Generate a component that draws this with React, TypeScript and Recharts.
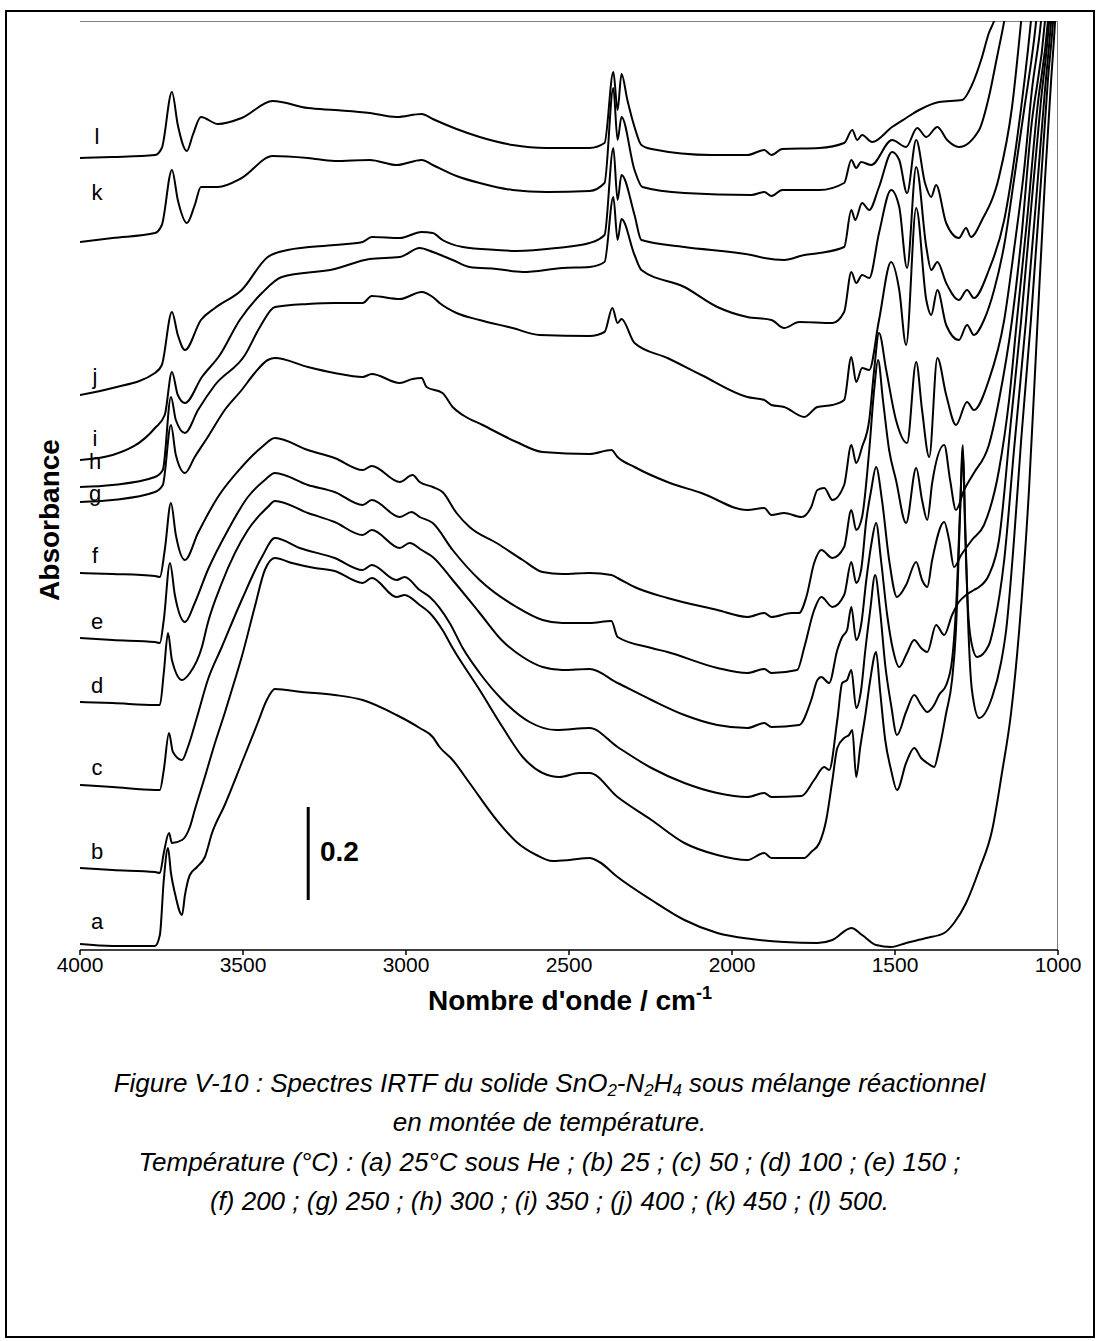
import React from 'react';
import { LineChart, Line, XAxis, YAxis, ReferenceLine } from 'recharts';

// wavenumber (cm-1), absorbance with offset (arbitrary units, 93 = 0.2)
const specA: [number, number][] = [
  [4000, 6], [3900, 4], [3770, 4], [3755, 15], [3743, 70], [3730, 102], [3721, 77], [3709, 57], [3687, 35], [3678, 55],
  [3663, 75], [3641, 83], [3617, 93], [3595, 117], [3556, 145], [3504, 187], [3455, 227], [3427, 250], [3402, 261], [3320, 258],
  [3219, 255], [3133, 250], [3029, 235], [2958, 222], [2918, 213], [2897, 203], [2857, 190], [2805, 167], [2722, 130], [2661, 108],
  [2600, 95], [2551, 89], [2498, 90], [2437, 92], [2407, 88], [2351, 73], [2247, 50], [2146, 30], [2045, 17], [1941, 11],
  [1840, 8], [1738, 7], [1692, 10], [1634, 22], [1601, 15], [1558, 5], [1512, 3], [1466, 7], [1404, 12], [1349, 17],
  [1319, 27], [1282, 47], [1242, 80], [1202, 120], [1172, 177], [1144, 237], [1119, 320], [1089, 460], [1064, 620], [1040, 770],
  [1021, 870], [1009, 929], [1000, 990],
];
const specB: [number, number][] = [
  [4000, 82], [3900, 80], [3770, 78], [3755, 77], [3743, 97], [3727, 117], [3718, 107], [3687, 110], [3663, 123], [3648, 140],
  [3617, 173], [3586, 207], [3556, 237], [3525, 270], [3504, 293], [3464, 343], [3433, 380], [3402, 392], [3350, 387], [3280, 382],
  [3219, 379], [3133, 367], [3105, 372], [3029, 353], [3004, 355], [2958, 345], [2927, 337], [2888, 320], [2857, 302], [2774, 260],
  [2704, 223], [2642, 193], [2581, 177], [2529, 173], [2468, 177], [2437, 177], [2351, 153], [2247, 130], [2146, 107], [2045, 95],
  [1953, 90], [1901, 97], [1879, 92], [1778, 92], [1757, 98], [1732, 107], [1711, 130], [1692, 170], [1677, 202], [1656, 212],
  [1641, 215], [1631, 220], [1619, 173], [1607, 202], [1591, 235], [1576, 270], [1558, 298], [1546, 260], [1530, 210], [1512, 180],
  [1494, 160], [1466, 187], [1441, 202], [1420, 192], [1401, 187], [1380, 183], [1365, 200], [1343, 237], [1325, 270], [1313, 320],
  [1301, 430], [1292, 505], [1285, 430], [1276, 330], [1264, 260], [1242, 232], [1202, 253], [1175, 287], [1159, 320], [1135, 410],
  [1113, 510], [1083, 630], [1052, 770], [1031, 870], [1015, 929], [1000, 1010],
];
const specC: [number, number][] = [
  [4000, 165], [3900, 163], [3770, 160], [3755, 160], [3743, 180], [3727, 217], [3715, 198], [3687, 190], [3669, 203], [3641, 233],
  [3608, 270], [3565, 303], [3504, 350], [3442, 393], [3402, 412], [3326, 402], [3219, 392], [3133, 380], [3105, 385], [3029, 370],
  [3004, 373], [2958, 360], [2927, 353], [2866, 327], [2826, 302], [2774, 277], [2704, 250], [2621, 228], [2539, 220], [2437, 222],
  [2351, 203], [2247, 182], [2146, 167], [2045, 157], [1953, 153], [1901, 157], [1879, 153], [1787, 154], [1748, 170], [1717, 183],
  [1702, 180], [1677, 230], [1662, 267], [1647, 270], [1634, 280], [1619, 242], [1604, 260], [1591, 300], [1576, 340], [1561, 375],
  [1546, 340], [1530, 285], [1512, 245], [1494, 215], [1466, 238], [1441, 255], [1420, 245], [1401, 238], [1380, 245], [1365, 255],
  [1343, 265], [1325, 290], [1310, 360], [1297, 470], [1292, 500], [1285, 420], [1276, 340], [1267, 310], [1248, 293], [1212, 305],
  [1196, 325], [1165, 390], [1135, 500], [1098, 630], [1067, 750], [1040, 860], [1021, 929], [1000, 1030],
];
const specD: [number, number][] = [
  [4000, 248], [3900, 247], [3770, 245], [3755, 245], [3743, 277], [3730, 317], [3718, 290], [3687, 270], [3663, 277], [3626, 303],
  [3608, 327], [3565, 367], [3485, 420], [3424, 443], [3402, 449], [3301, 437], [3219, 428], [3133, 415], [3105, 420], [3019, 402],
  [2989, 407], [2952, 400], [2918, 393], [2857, 370], [2774, 337], [2707, 310], [2642, 293], [2581, 283], [2520, 280], [2437, 281],
  [2351, 267], [2247, 250], [2146, 235], [2045, 225], [1953, 222], [1901, 227], [1879, 223], [1794, 225], [1757, 250], [1738, 270],
  [1726, 273], [1702, 267], [1677, 300], [1662, 313], [1647, 320], [1634, 343], [1619, 310], [1604, 325], [1588, 370], [1573, 405],
  [1558, 427], [1543, 390], [1524, 335], [1506, 300], [1487, 283], [1466, 295], [1441, 310], [1420, 302], [1401, 298], [1374, 325],
  [1349, 315], [1325, 335], [1304, 348], [1282, 355], [1258, 360], [1242, 363], [1212, 375], [1181, 410], [1144, 530], [1113, 630],
  [1083, 740], [1052, 850], [1027, 929], [1000, 1080],
];
const specE: [number, number][] = [
  [4000, 312], [3900, 310], [3770, 308], [3755, 307], [3743, 330], [3724, 387], [3709, 355], [3678, 328], [3648, 347], [3608, 380],
  [3546, 420], [3485, 453], [3433, 470], [3402, 477], [3301, 465], [3219, 458], [3133, 445], [3105, 450], [3019, 433], [2983, 438],
  [2958, 433], [2918, 427], [2857, 400], [2774, 370], [2661, 343], [2581, 330], [2520, 327], [2437, 327], [2370, 329], [2351, 313],
  [2247, 302], [2198, 298], [2045, 282], [1953, 277], [1901, 281], [1879, 277], [1800, 280], [1778, 303], [1748, 340], [1726, 353],
  [1692, 343], [1656, 355], [1634, 388], [1619, 367], [1604, 380], [1588, 430], [1573, 460], [1558, 483], [1540, 450], [1518, 390],
  [1494, 353], [1466, 365], [1435, 388], [1417, 370], [1401, 363], [1386, 390], [1349, 428], [1334, 410], [1319, 383], [1297, 395],
  [1264, 410], [1227, 425], [1181, 480], [1150, 550], [1126, 630], [1095, 730], [1064, 840], [1031, 929], [1000, 1100],
];
const specF: [number, number][] = [
  [4000, 377], [3900, 376], [3770, 374], [3755, 373], [3740, 400], [3721, 447], [3706, 415], [3678, 390], [3638, 417], [3577, 453],
  [3504, 483], [3442, 503], [3402, 512], [3301, 500], [3219, 492], [3133, 480], [3105, 484], [3019, 468], [2980, 475], [2958, 468],
  [2918, 463], [2888, 458], [2845, 437], [2805, 423], [2722, 407], [2642, 390], [2581, 378], [2520, 376], [2437, 377], [2370, 375],
  [2351, 372], [2299, 363], [2198, 352], [2045, 340], [1953, 333], [1901, 337], [1879, 333], [1817, 337], [1794, 337], [1772, 353],
  [1748, 387], [1726, 400], [1692, 392], [1656, 403], [1634, 440], [1619, 420], [1601, 433], [1579, 500], [1564, 560], [1552, 590],
  [1537, 550], [1518, 500], [1497, 470], [1466, 427], [1435, 482], [1417, 450], [1401, 430], [1386, 467], [1349, 505], [1331, 470],
  [1313, 440], [1288, 460], [1258, 477], [1212, 505], [1181, 550], [1141, 630], [1113, 710], [1083, 820], [1040, 929], [1000, 1150],
];
const specG: [number, number][] = [
  [4000, 448], [3900, 450], [3770, 458], [3746, 465], [3721, 525], [3706, 495], [3678, 477], [3648, 493], [3608, 513], [3556, 540],
  [3504, 560], [3464, 577], [3424, 590], [3402, 592], [3301, 583], [3219, 577], [3133, 573], [3105, 576], [3019, 567], [2980, 571],
  [2952, 572], [2937, 563], [2888, 557], [2857, 543], [2826, 535], [2765, 525], [2661, 508], [2581, 498], [2437, 496], [2370, 500],
  [2351, 493], [2299, 483], [2198, 468], [2094, 457], [1953, 440], [1901, 442], [1879, 435], [1840, 437], [1787, 433], [1757, 443],
  [1738, 460], [1717, 462], [1692, 450], [1656, 465], [1634, 505], [1619, 487], [1601, 503], [1579, 530], [1564, 580], [1549, 617],
  [1527, 580], [1497, 530], [1463, 507], [1435, 588], [1417, 540], [1395, 493], [1370, 592], [1343, 555], [1313, 525], [1279, 548],
  [1258, 540], [1212, 570], [1165, 630], [1135, 700], [1104, 780], [1080, 860], [1052, 929], [1000, 1200],
];
const specH: [number, number][] = [
  [4000, 463], [3900, 465], [3770, 473], [3746, 480], [3721, 553], [3706, 530], [3678, 517], [3638, 540], [3586, 565], [3494, 595],
  [3448, 623], [3402, 643], [3301, 646], [3219, 647], [3133, 647], [3105, 654], [3019, 651], [2952, 658], [2918, 653], [2897, 647],
  [2845, 637], [2774, 630], [2673, 622], [2590, 615], [2437, 614], [2391, 618], [2367, 642], [2351, 627], [2339, 631], [2299, 607],
  [2198, 592], [2094, 575], [1953, 553], [1901, 550], [1879, 545], [1840, 543], [1778, 533], [1738, 543], [1692, 545], [1656, 550],
  [1634, 593], [1619, 568], [1601, 582], [1579, 580], [1549, 630], [1512, 688], [1487, 660], [1466, 605], [1435, 742], [1404, 650],
  [1389, 635], [1370, 660], [1343, 625], [1304, 610], [1279, 625], [1258, 615], [1227, 630], [1196, 660], [1165, 705], [1135, 770],
  [1104, 840], [1067, 929], [1000, 1250],
];
const specI: [number, number][] = [
  [4000, 490], [3900, 495], [3770, 522], [3740, 535], [3718, 578], [3700, 555], [3678, 547], [3626, 573], [3571, 595], [3510, 630],
  [3442, 657], [3381, 673], [3219, 681], [3111, 691], [3019, 693], [2958, 702], [2918, 698], [2857, 690], [2805, 683], [2722, 681],
  [2642, 678], [2520, 682], [2437, 683], [2391, 688], [2364, 753], [2351, 710], [2339, 731], [2299, 695], [2278, 680], [2146, 663],
  [2045, 643], [1953, 633], [1879, 630], [1840, 622], [1794, 628], [1692, 627], [1656, 638], [1634, 678], [1619, 667], [1601, 675],
  [1579, 672], [1549, 717], [1512, 760], [1487, 743], [1463, 682], [1435, 783], [1404, 703], [1389, 680], [1370, 688], [1343, 667],
  [1304, 650], [1279, 660], [1258, 652], [1212, 680], [1165, 730], [1126, 810], [1083, 929], [1000, 1300],
];
const specJ: [number, number][] = [
  [4000, 555], [3900, 562], [3770, 577], [3749, 585], [3718, 638], [3700, 615], [3678, 600], [3629, 630], [3586, 642], [3504, 660],
  [3424, 693], [3363, 700], [3219, 705], [3133, 708], [3105, 713], [3019, 712], [2952, 718], [2918, 717], [2888, 710], [2826, 703],
  [2722, 700], [2661, 699], [2539, 702], [2437, 707], [2391, 715], [2364, 802], [2351, 750], [2339, 775], [2299, 735], [2278, 710],
  [2146, 703], [1941, 695], [1901, 692], [1840, 690], [1778, 695], [1732, 697], [1656, 703], [1634, 740], [1622, 730], [1601, 747],
  [1579, 740], [1549, 763], [1509, 798], [1487, 790], [1463, 757], [1435, 810], [1408, 767], [1389, 753], [1374, 765], [1343, 727],
  [1304, 712], [1282, 722], [1267, 713], [1233, 730], [1181, 773], [1141, 843], [1113, 929], [1000, 1400],
];
const specK: [number, number][] = [
  [4000, 708], [3900, 712], [3770, 717], [3749, 725], [3718, 780], [3700, 750], [3672, 727], [3648, 745], [3629, 763], [3577, 763],
  [3504, 772], [3409, 794], [3301, 792], [3219, 789], [3111, 790], [3029, 785], [2952, 790], [2918, 785], [2845, 774], [2774, 767],
  [2673, 760], [2569, 758], [2437, 759], [2391, 767], [2364, 862], [2351, 810], [2339, 833], [2299, 780], [2275, 763], [2146, 757],
  [1941, 755], [1901, 758], [1879, 754], [1846, 760], [1732, 760], [1656, 767], [1634, 790], [1619, 782], [1604, 788], [1573, 785],
  [1509, 810], [1466, 803], [1432, 822], [1404, 813], [1370, 823], [1340, 810], [1304, 803], [1242, 820], [1212, 853], [1187, 893],
  [1165, 929], [1000, 1500],
];
const specL: [number, number][] = [
  [4000, 792], [3900, 793], [3770, 795], [3749, 802], [3718, 858], [3700, 825], [3672, 799], [3654, 815], [3629, 833], [3577, 826],
  [3504, 832], [3409, 849], [3301, 842], [3219, 840], [3111, 837], [3029, 833], [2952, 836], [2918, 831], [2845, 821], [2774, 813],
  [2673, 805], [2569, 802], [2437, 802], [2391, 807], [2364, 878], [2351, 840], [2339, 876], [2321, 850], [2299, 823], [2278, 805],
  [2247, 801], [2063, 795], [1953, 795], [1901, 800], [1879, 795], [1846, 801], [1732, 802], [1656, 807], [1631, 820], [1616, 810],
  [1601, 815], [1570, 808], [1509, 823], [1466, 832], [1426, 840], [1365, 848], [1294, 850], [1264, 865], [1233, 893], [1212, 917],
  [1196, 929], [1000, 1500],
];

const spectra = [specA, specB, specC, specD, specE, specF, specG, specH, specI, specJ, specK, specL];
const curveLetters = ['a', 'b', 'c', 'd', 'e', 'f', 'g', 'h', 'i', 'j', 'k', 'l'];
// label centre for each letter, pixels from the plot's left / bottom edge
const letterLeft = [17, 17, 17, 17, 17, 15, 15, 15, 15, 15, 17, 17];
const letterUp = [28, 98, 182, 264, 328, 394, 456, 488, 511, 573, 757, 813];

const xTicks = [4000, 3500, 3000, 2500, 2000, 1500, 1000];
const scaleBarX = 3300;
const scaleBarFrom = 50;
const scaleBarSize = 93; // 0.2 absorbance

const captionLines = [
  <>Figure V-10 : Spectres IRTF du solide SnO<sub>2</sub>-N<sub>2</sub>H<sub>4</sub> sous mélange réactionnel</>,
  <>en montée de température.</>,
  <>Température (°C) : (a) 25°C sous He ; (b) 25 ; (c) 50 ; (d) 100 ; (e) 150 ;</>,
  <>(f) 200 ; (g) 250 ; (h) 300 ; (i) 350 ; (j) 400 ; (k) 450 ; (l) 500.</>,
];

const font = '"Liberation Sans", Arial, sans-serif';

export default function App() {
  return (
    <div style={{ position: 'relative', width: 1099, height: 1341, background: '#fff', fontFamily: font }}>
      <style>{`body{margin:0;} sub{font-size:0.65em;vertical-align:-0.25em;line-height:0;}`}</style>
      <div style={{ position: 'absolute', left: 5, top: 10, width: 1086, height: 1324, border: '2px solid #000' }} />
      <div style={{ position: 'absolute', left: 80, top: 21, width: 977, height: 928, borderTop: '1px solid #808080', borderRight: '1px solid #808080' }} />
      <LineChart
        width={1099}
        height={1010}
        margin={{ top: 21, right: 41, left: 80, bottom: 0 }}
        style={{ position: 'absolute', left: 0, top: 0 }}
      >
        <XAxis
          type="number"
          dataKey="wn"
          domain={[1000, 4000]}
          reversed
          allowDataOverflow
          ticks={xTicks}
          height={60}
          stroke="#000"
          strokeWidth={1.5}
          tickSize={5}
          tick={{ fill: '#000', fontSize: 21, fontFamily: font }}
        />
        <YAxis
          type="number"
          dataKey="v"
          domain={[0, 929]}
          allowDataOverflow
          width={0}
          tick={false}
          stroke="#000"
          strokeWidth={1.5}
        />
        {spectra.map((s, i) => (
          <Line
            key={curveLetters[i]}
            data={s.map(([wn, v]) => ({ wn, v }))}
            dataKey="v"
            type="monotone"
            dot={false}
            stroke="#000"
            strokeWidth={2}
            isAnimationActive={false}
          />
        ))}
        <ReferenceLine
          segment={[{ x: scaleBarX, y: scaleBarFrom }, { x: scaleBarX, y: scaleBarFrom + scaleBarSize }]}
          stroke="#000"
          strokeWidth={3}
        />
      </LineChart>
      {curveLetters.map((c, i) => (
        <div
          key={c}
          style={{
            position: 'absolute',
            left: 80 + letterLeft[i] - 15,
            width: 30,
            textAlign: 'center',
            top: 950 - letterUp[i] - 11,
            fontSize: 22,
            lineHeight: '22px',
          }}
        >
          {c}
        </div>
      ))}
      <div style={{ position: 'absolute', left: 320, top: 836, fontSize: 28, fontWeight: 'bold', lineHeight: '32px' }}>0.2</div>
      <div
        style={{
          position: 'absolute',
          left: 50,
          top: 520,
          transform: 'translate(-50%, -50%) rotate(-90deg)',
          fontSize: 28,
          fontWeight: 'bold',
          whiteSpace: 'nowrap',
          lineHeight: '32px',
        }}
      >
        Absorbance
      </div>
      <div style={{ position: 'absolute', left: 0, width: 1140, top: 985, textAlign: 'center', fontSize: 28, fontWeight: 'bold', lineHeight: '32px' }}>
        Nombre d'onde / cm<sup style={{ fontSize: 18, verticalAlign: '0.6em', lineHeight: 0 }}>-1</sup>
      </div>
      {captionLines.map((ln, i) => (
        <div
          key={i}
          style={{
            position: 'absolute',
            left: 0,
            width: 1099,
            top: 1068 + i * 39.4,
            textAlign: 'center',
            fontSize: 26,
            fontStyle: 'italic',
            lineHeight: '30px',
          }}
        >
          {ln}
        </div>
      ))}
    </div>
  );
}
